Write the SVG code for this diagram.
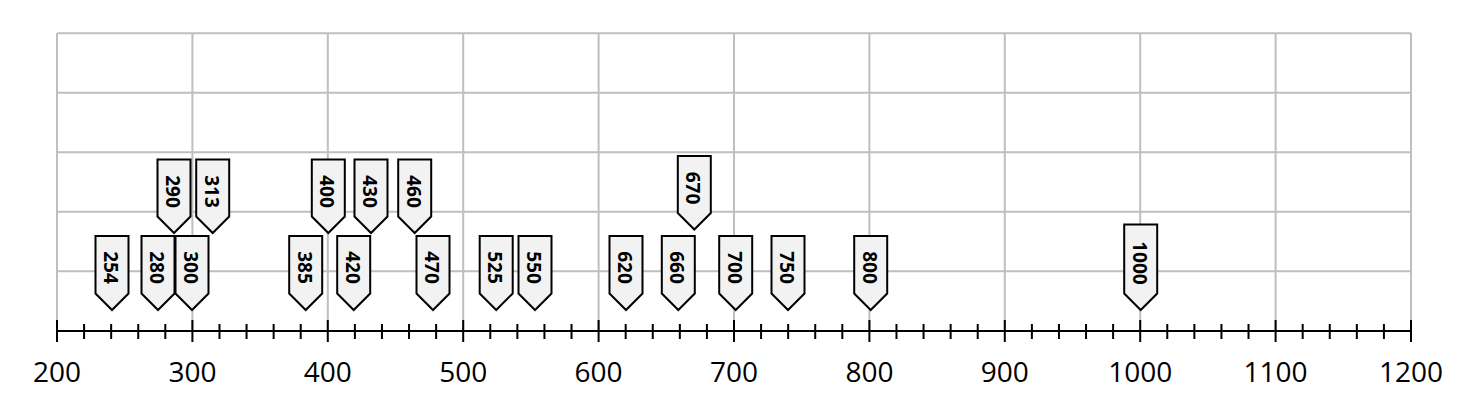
<svg xmlns="http://www.w3.org/2000/svg" width="1478" height="410" viewBox="0 0 1478 410">
<style>
.grid{stroke:#bfbfbf;stroke-width:2;fill:none}
.axis{stroke:#000;stroke-width:2;fill:none}
.mk path{fill:#f2f2f2;stroke:#000;stroke-width:2;stroke-linejoin:miter}
.mk text{font-family:"Open Sans","Liberation Sans",sans-serif;font-size:19px;font-weight:bold;fill:#000;text-anchor:middle;dominant-baseline:central}
.tl{font-family:"Open Sans","Liberation Sans",sans-serif;font-size:28px;fill:#000;text-anchor:middle}
</style>
<rect width="1478" height="410" fill="#fff"/>
<g id="grid" class="grid">
<path d="M57 33.3H1411M57 92.8H1411M57 152.3H1411M57 211.8H1411M57 271.3H1411"/>
<path d="M57 33V331M192.4 33V331M327.8 33V331M463.2 33V331M598.6 33V331M734 33V331M869.4 33V331M1004.8 33V331M1140.2 33V331M1275.6 33V331M1411 33V331"/>
</g>
<g id="axis" class="axis">
<path d="M57 331H1411"/>
<path d="M57 320V342M192.4 320V342M327.8 320V342M463.2 320V342M598.6 320V342M734 320V342M869.4 320V342M1004.8 320V342M1140.2 320V342M1275.6 320V342M1411 320V342"/>
<path d="M84.08 324V339M111.16 324V339M138.24 324V339M165.32 324V339M219.48 324V339M246.56 324V339M273.64 324V339M300.72 324V339M354.88 324V339M381.96 324V339M409.04 324V339M436.12 324V339M490.28 324V339M517.36 324V339M544.44 324V339M571.52 324V339M625.68 324V339M652.76 324V339M679.84 324V339M706.92 324V339M761.08 324V339M788.16 324V339M815.24 324V339M842.32 324V339M896.48 324V339M923.56 324V339M950.64 324V339M977.72 324V339M1031.88 324V339M1058.96 324V339M1086.04 324V339M1113.12 324V339M1167.28 324V339M1194.36 324V339M1221.44 324V339M1248.52 324V339M1302.68 324V339M1329.76 324V339M1356.84 324V339M1383.92 324V339"/>
</g>
<g id="axis-labels">
<text class="tl" x="57" y="382">200</text>
<text class="tl" x="192.4" y="382">300</text>
<text class="tl" x="327.8" y="382">400</text>
<text class="tl" x="463.2" y="382">500</text>
<text class="tl" x="598.6" y="382">600</text>
<text class="tl" x="734" y="382">700</text>
<text class="tl" x="869.4" y="382">800</text>
<text class="tl" x="1004.8" y="382">900</text>
<text class="tl" x="1140.2" y="382">1000</text>
<text class="tl" x="1275.6" y="382">1100</text>
<text class="tl" x="1411" y="382">1200</text>
</g>
<g id="m254" class="mk"><path d="M95.5 236H128.5V293.5L112 310L95.5 293.5Z"/><text x="111" y="267.5" transform="rotate(90 111 267.5)">254</text></g>
<g id="m280" class="mk"><path d="M141.5 236H174.5V293.5L158 310L141.5 293.5Z"/><text x="157" y="267.5" transform="rotate(90 157 267.5)">280</text></g>
<g id="m300" class="mk"><path d="M175.5 236H208.5V293.5L192 310L175.5 293.5Z"/><text x="191" y="267.5" transform="rotate(90 191 267.5)">300</text></g>
<g id="m290" class="mk"><path d="M157.5 159.5H190.5V216.5L174 233L157.5 216.5Z"/><text x="173" y="191.5" transform="rotate(90 173 191.5)">290</text></g>
<g id="m313" class="mk"><path d="M196.2 159.5H229.2V216.5L212.7 233L196.2 216.5Z"/><text x="211.7" y="191.5" transform="rotate(90 211.7 191.5)">313</text></g>
<g id="m385" class="mk"><path d="M289.2 236H322.2V293.5L305.7 310L289.2 293.5Z"/><text x="304.7" y="267.5" transform="rotate(90 304.7 267.5)">385</text></g>
<g id="m400" class="mk"><path d="M311.8 159.5H344.8V216.5L328.3 233L311.8 216.5Z"/><text x="327.3" y="191.5" transform="rotate(90 327.3 191.5)">400</text></g>
<g id="m420" class="mk"><path d="M337.2 236H370.2V293.5L353.7 310L337.2 293.5Z"/><text x="352.7" y="267.5" transform="rotate(90 352.7 267.5)">420</text></g>
<g id="m430" class="mk"><path d="M354.5 159.5H387.5V216.5L371 233L354.5 216.5Z"/><text x="370" y="191.5" transform="rotate(90 370 191.5)">430</text></g>
<g id="m460" class="mk"><path d="M398.2 159.5H431.2V216.5L414.7 233L398.2 216.5Z"/><text x="413.7" y="191.5" transform="rotate(90 413.7 191.5)">460</text></g>
<g id="m470" class="mk"><path d="M416.5 236H449.5V293.5L433 310L416.5 293.5Z"/><text x="432" y="267.5" transform="rotate(90 432 267.5)">470</text></g>
<g id="m525" class="mk"><path d="M479.7 236H512.7V293.5L496.2 310L479.7 293.5Z"/><text x="495.2" y="267.5" transform="rotate(90 495.2 267.5)">525</text></g>
<g id="m550" class="mk"><path d="M518.5 236H551.5V293.5L535 310L518.5 293.5Z"/><text x="534" y="267.5" transform="rotate(90 534 267.5)">550</text></g>
<g id="m620" class="mk"><path d="M609.5 236H642.5V293.5L626 310L609.5 293.5Z"/><text x="625" y="267.5" transform="rotate(90 625 267.5)">620</text></g>
<g id="m660" class="mk"><path d="M661.8 236H694.8V293.5L678.3 310L661.8 293.5Z"/><text x="677.3" y="267.5" transform="rotate(90 677.3 267.5)">660</text></g>
<g id="m670" class="mk"><path d="M677.8 156H710.8V213L694.3 229.5L677.8 213Z"/><text x="693.3" y="188" transform="rotate(90 693.3 188)">670</text></g>
<g id="m700" class="mk"><path d="M719.2 236H752.2V293.5L735.7 310L719.2 293.5Z"/><text x="734.7" y="267.5" transform="rotate(90 734.7 267.5)">700</text></g>
<g id="m750" class="mk"><path d="M771.5 236H804.5V293.5L788 310L771.5 293.5Z"/><text x="787" y="267.5" transform="rotate(90 787 267.5)">750</text></g>
<g id="m800" class="mk"><path d="M854.2 236H887.2V293.5L870.7 310L854.2 293.5Z"/><text x="869.7" y="267.5" transform="rotate(90 869.7 267.5)">800</text></g>
<g id="m1000" class="mk"><path d="M1124.2 224.5H1157.2V293.5L1140.7 310L1124.2 293.5Z"/><text x="1139.7" y="263" transform="rotate(90 1139.7 263)">1000</text></g>
</svg>
